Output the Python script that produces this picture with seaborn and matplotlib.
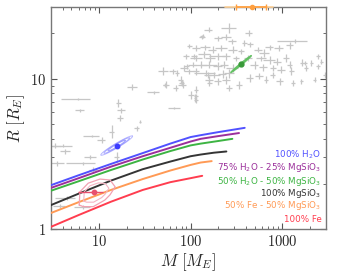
import numpy as np
import pandas as pd
import matplotlib
matplotlib.use("Agg")
import matplotlib.pyplot as plt
import matplotlib.ticker as mticker
import seaborn as sns

# ---------------- composition curves (mass [M_E], radius [R_E]) ----------------
comp_labels = ["100% H$_2$O", "75% H$_2$O - 25% MgSiO$_3$", "50% H$_2$O - 50% MgSiO$_3$",
               "100% MgSiO$_3$", "50% Fe - 50% MgSiO$_3$", "100% Fe"]
comp_colors = ["#5151ff", "#9b2f9b", "#3db443", "#353535", "#ff9a55", "#ff3d4f"]

h2o_m = [3, 6, 13.5, 30, 60, 100, 129, 200, 390]
h2o_r = [1.96, 2.28, 2.71, 3.20, 3.70, 4.09, 4.21, 4.41, 4.71]
h2o75_m = [3, 6, 13.5, 30, 60, 100, 129, 200, 338]
h2o75_r = [1.88, 2.18, 2.60, 3.05, 3.47, 3.82, 3.98, 4.15, 4.35]
h2o50_m = [3, 6, 13.5, 30, 60, 100, 129, 200, 286]
h2o50_r = [1.80, 2.08, 2.47, 2.90, 3.30, 3.60, 3.70, 3.85, 3.98]
rock_m = [3, 6, 13.5, 30, 60, 100, 129, 180, 246]
rock_r = [1.445, 1.72, 2.10, 2.50, 2.81, 3.05, 3.13, 3.22, 3.28]
fe50_m = [3, 6, 13.5, 30, 60, 100, 129, 170]
fe50_r = [1.28, 1.51, 1.82, 2.15, 2.45, 2.67, 2.77, 2.83]
fe_m = [3, 6, 13.5, 30, 60, 100, 134]
fe_r = [1.036, 1.24, 1.52, 1.82, 2.05, 2.18, 2.26]

# ---------------- known planets (grey) ----------------
pl_m = [157, 265, 432, 133, 198, 244, 284, 387, 447, 728, 920, 1205, 1367, 115, 145, 174, 215,
        288, 356, 542, 641, 97, 110, 141, 163, 198, 244, 314, 421, 590, 728, 875, 1109, 1205,
        1758, 2462, 2462, 105, 130, 160, 198, 234, 288, 499, 615, 791, 977, 115, 147, 182, 224,
        265, 440, 565, 791, 1259, 1835, 160, 198, 244, 341, 669, 936, 1310, 2265, 2911, 265, 115,
        115, 101, 135, 89, 115, 85, 97, 50.6, 63.5, 78.5, 53.8, 81.7, 69.2, 23.2, 39.4, 115, 160,
        154, 2083, 2682, 1660, 1619,
        5.93, 6.2, 16.3, 17.3, 17.0, 13.8, 25.9, 28.1, 66.2, 112, 8.32, 4.06, 10.7, 7.97, 6.73,
        3.44, 15.6, 8.67, 4.43, 3.74, 6.73, 3.35, 4.3, 52.8, 71, 80.5, 91]
pl_r = [21.2, 21.8, 20.2, 18.9, 18.5, 18.9, 17.7, 17.3, 16.9, 16.2, 16.0, 16.7, 17.9, 16.0, 16.2,
        15.6, 16.0, 15.6, 15.2, 15.6, 14.8, 16.4, 14.1, 14.5, 13.7, 14.1, 14.1, 13.7, 13.7, 13.7,
        13.4, 13.0, 13.7, 12.4, 12.7, 14.1, 12.1, 12.4, 12.4, 12.4, 12.1, 12.4, 11.8, 12.4, 11.9,
        11.8, 11.5, 11.2, 10.9, 10.6, 10.7, 10.9, 10.1, 10.4, 10.6, 11.2, 11.8, 9.85, 9.59, 9.85,
        9.12, 9.85, 9.59, 9.36, 9.85, 10.6, 8.67, 8.45, 7.24, 7.82, 19.1, 14.1, 13.7, 11.8, 11.2,
        11.2, 11.2, 9.85, 9.12, 9.12, 8.67, 8.8, 8.1, 7.62, 9.36, 10.6, 12.7, 13.0, 12.8, 9.59,
        7.32, 6.15, 6.9, 6.15, 5.47, 4.45, 4.69, 5.19, 6.38, 7.44, 4.17, 3.58, 3.92, 3.03, 2.74,
        2.74, 3.03, 2.47, 1.6, 1.42, 1.41, 3.59, 3.28, 9.1, 10.9, 9.36, 12.1]
pl_m_err = [.10, .18, .08, .08, .10, .12, .10, .06, .08, .10, .12, .08, .35, .10, .12, .10, .15,
            .12, .08, .10, .12, .06, .08, .15, .12, .20, .10, .08, .10, .12, .15, .10, .08, .06,
            .05, .04, .04, .10, .15, .20, .12, .10, .15, .10, .10, .08, .10, .08, .25, .15, .10,
            .12, .08, .10, .06, .06, .05, .10, .08, .10, .08, .06, .08, .05, .04, .04, .08, .06,
            .05, .08, .05, .08, .15, .10, .12, .12, .08, .06, .08, .10, .06, .12, .15, .05, .06,
            .08, .04, .03, .05, .04,
            .35, .12, .06, .10, .08, .06, .06, .03, .15, .03, .20, .25, .10, .15, .35, .20, .06,
            .10, .25, .15, .20, .15, .12, .05, .05, .06, .06]
pl_r_err = [.04, .08, .05, .03, .04, .05, .04, .04, .04, .04, .04, .05, .03, .04, .04, .05, .04,
            .05, .04, .04, .06, .03, .04, .05, .06, .05, .05, .04, .05, .04, .06, .05, .06, .05,
            .03, .04, .04, .04, .05, .05, .06, .05, .06, .06, .05, .05, .05, .05, .04, .05, .06,
            .07, .06, .05, .05, .06, .05, .05, .06, .06, .06, .05, .05, .05, .04, .04, .05, .05,
            .05, .06, .03, .04, .05, .05, .04, .06, .04, .06, .05, .05, .04, .05, .02, .04, .04,
            .05, .04, .04, .05, .04,
            .02, .02, .06, .04, .05, .10, .04, .02, .02, .06, .02, .02, .05, .03, .02, .04, .08,
            .04, .03, .03, .03, .04, .04, .03, .04, .04, .04]

# ---------------- highlighted planets ----------------
blue_c = (15.6, 3.59)          # centre
blue_major = (0.173, 0.063)    # semi-major (dex in M, dex in R)
blue_minor = (0.012, -0.013)
green_c = (356, 12.5)
green_major = (0.112, 0.056)
green_minor = (0.004, -0.005)
pink_c = (8.89, 1.77)
pink_m_lo, pink_m_hi = 5.9, 11.1
pink_blob_m = [6.08, 6.19, 7.63, 10.25, 13.2, 15.0, 13.2, 11.6, 8.66, 6.73, 6.08]
pink_blob_r = [1.445, 1.77, 2.02, 2.15, 2.12, 1.91, 1.69, 1.56, 1.41, 1.41, 1.445]
orange_c = (466, 30.0)
orange_m_lo, orange_m_hi = 314, 667
orange_m_lo2, orange_m_hi2 = 240, 800

# ---------------- figure ----------------
sns.set_style("ticks")
plt.rcParams["mathtext.fontset"] = "cm"
plt.rcParams["font.family"] = ["DejaVu Sans"]

fig = plt.figure(figsize=(3.43, 2.76), dpi=100)
ax = fig.add_axes([0.149, 0.170, 0.801, 0.805])
ax.set_xscale("log")
ax.set_yscale("log")

ax.errorbar(pl_m, pl_r, xerr=np.array(pl_m) * np.array(pl_m_err),
            yerr=np.array(pl_r) * np.array(pl_r_err), fmt="none",
            ecolor="#c6c6c6", elinewidth=0.9, capsize=0, zorder=1)

rows = []
for lab, ms, rs in zip(comp_labels, [h2o_m, h2o75_m, h2o50_m, rock_m, fe50_m, fe_m],
                       [h2o_r, h2o75_r, h2o50_r, rock_r, fe50_r, fe_r]):
    for m, r in zip(ms, rs):
        rows.append({"M": m, "R": r, "comp": lab})
df = pd.DataFrame(rows)
sns.lineplot(data=df, x="M", y="R", hue="comp", palette=dict(zip(comp_labels, comp_colors)),
             sort=False, estimator=None, legend=False, lw=1.4, ax=ax, zorder=3)


def ellipse(c, maj, mnr, s=1.0):
    t = np.linspace(0, 2 * np.pi, 120)
    lm = np.log10(c[0]) + s * (maj[0] * np.cos(t) + mnr[0] * np.sin(t))
    lr = np.log10(c[1]) + s * (maj[1] * np.cos(t) + mnr[1] * np.sin(t))
    return 10 ** lm, 10 ** lr


for s, a in [(1.0, 0.55), (0.8, 0.6), (0.55, 0.7)]:
    em, er = ellipse(blue_c, blue_major, blue_minor, s)
    ax.plot(em, er, color="#7b7bff", lw=0.7, alpha=a, zorder=4)
ax.plot([blue_c[0]], [blue_c[1]], "o", color="#3b3bff", ms=3.2, zorder=5)

em, er = ellipse(green_c, green_major, green_minor)
ax.fill(em, er, color="#5fbf5f", alpha=0.9, lw=1.0, ec="#5fbf5f", zorder=4)
ax.plot([green_c[0]], [green_c[1]], "o", color="#3a9a3a", ms=3.5, zorder=5)

ax.plot(pink_blob_m, pink_blob_r, color="#f2a0b2", lw=0.9, zorder=4)
lm = np.log10(pink_c[0]) + 0.7 * (np.log10(pink_blob_m) - np.log10(pink_c[0]))
lr = np.log10(pink_c[1]) + 0.7 * (np.log10(pink_blob_r) - np.log10(pink_c[1]))
ax.plot(10 ** lm, 10 ** lr, color="#f4b4c2", lw=0.8, zorder=4)
ax.errorbar([pink_c[0]], [pink_c[1]],
            xerr=[[pink_c[0] - pink_m_lo], [pink_m_hi - pink_c[0]]],
            fmt="o", color="#e8506e", ms=3.2, elinewidth=1.0, capsize=0, zorder=5)

l1, = ax.plot([orange_m_lo2, orange_m_hi2], [orange_c[1], orange_c[1]], color="#ffd39a",
              lw=1.2, zorder=5)
l1.set_clip_on(False)
cont = ax.errorbar([orange_c[0]], [orange_c[1]],
                   xerr=[[orange_c[0] - orange_m_lo], [orange_m_hi - orange_c[0]]],
                   fmt="o", color="#ffa040", ms=3, elinewidth=1.2, capsize=2.0, zorder=6)
for art in [cont[0], *cont[1], *cont[2]]:
    art.set_clip_on(False)

# legend texts
ys = [0.333, 0.279, 0.216, 0.162, 0.104, 0.041]
for lab, col, y in zip(comp_labels, comp_colors, ys):
    ax.text(0.984, y, lab, transform=ax.transAxes, ha="right", va="center", color=col,
            fontsize=6.3, math_fontfamily="dejavusans", zorder=7)

ax.set_xlim(3, 3000)
ax.set_ylim(1, 30)
ax.set_xticks([10, 100, 1000])
ax.set_xticklabels([r"$10$", r"$100$", r"$1000$"])
ax.set_yticks([1, 10])
ax.set_yticklabels([r"$1$", r"$10$"])
ax.xaxis.set_minor_formatter(mticker.NullFormatter())
ax.yaxis.set_minor_formatter(mticker.NullFormatter())
ax.tick_params(which="both", direction="in", top=True, right=True, color="#555555",
               labelsize=10.5)
ax.tick_params(which="major", length=4, width=0.8)
ax.tick_params(which="minor", length=2, width=0.6)
for sp in ax.spines.values():
    sp.set_color("#777777")
    sp.set_linewidth(1.0)
ax.set_xlabel(r"$M\ [M_E]$", fontsize=12, labelpad=2)
ax.set_ylabel(r"$R\ [R_E]$", fontsize=12, labelpad=2)

fig.savefig("out.png", dpi=100)
